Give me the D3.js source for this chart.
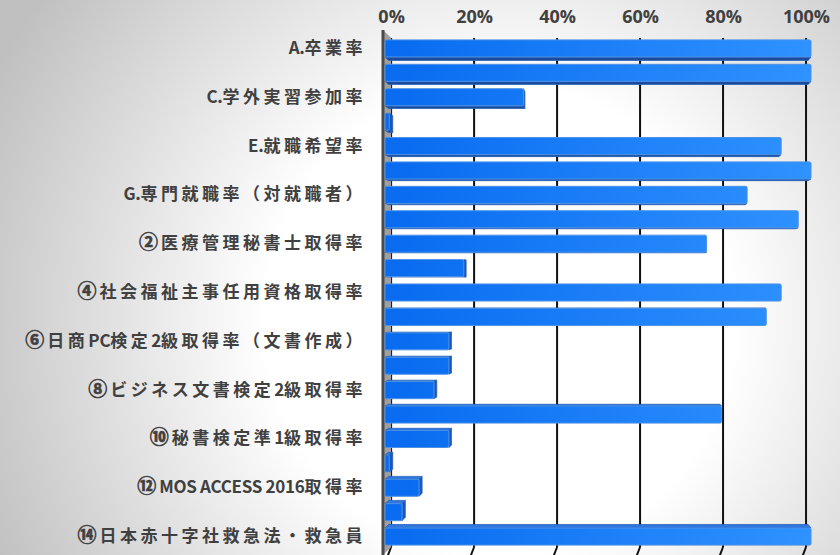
<!DOCTYPE html>
<html>
<head>
<meta charset="utf-8">
<script src="https://cdn.jsdelivr.net/npm/d3@7"></script>
<style>
  body { margin: 0; background: #fff; }
  svg { display: block; }
</style>
</head>
<body>
<div id="chart"></div>
<script>
// Catégories (les libellés impairs sont masqués dans l'original, noms supposés)
const categories = [
    "A.卒業率", "B.進級率", "C.学外実習参加率", "D.退学率", "E.就職希望率",
    "F.就職率", "G.専門就職率（対就職者）", "①秘書士取得率", "②医療管理秘書士取得率",
    "③ビジネス実務士取得率", "④社会福祉主事任用資格取得率", "⑤情報処理士取得率",
    "⑥日商PC検定2級取得率（文書作成）", "⑦日商PC検定2級取得率（データ活用）",
    "⑧ビジネス文書検定2級取得率", "⑨サービス接遇検定2級取得率", "⑩秘書検定準1級取得率",
    "⑪MOS WORD 2016取得率", "⑫MOS ACCESS 2016取得率", "⑬MOS EXCEL 2016取得率",
    "⑭日本赤十字社救急法・救急員"
];

const values = [
    1.00, 1.00, 0.325, 0.01, 0.93,
    1.00, 0.85, 0.97, 0.755,
    0.185, 0.93, 0.895,
    0.15, 0.15,
    0.115, 0.79, 0.15,
    0.01, 0.08, 0.04,
    1.00
];

const tickValues = [0, 0.2, 0.4, 0.6, 0.8, 1.0];
const tickLabels = ["0%", "20%", "40%", "60%", "80%", "100%"];

// Configuration
const width = 840;
const height = 555;
const vp = { x: 620, y: 290 };   // point de fuite pour l'effet 3D
const kBar = 0.985;
const kWall = 0.974;

function proj(px, py, k) {
    return [vp.x + (px - vp.x) * k, vp.y + (py - vp.y) * k];
}

const svg = d3.select("#chart")
    .append("svg")
    .attr("width", width)
    .attr("height", height);

const defs = svg.append("defs");

// Fond dégradé
const bg = defs.append("radialGradient")
    .attr("id", "bg")
    .attr("gradientUnits", "userSpaceOnUse")
    .attr("cx", 500).attr("cy", 320).attr("r", 560);
bg.append("stop").attr("offset", "0").attr("stop-color", "#ffffff");
bg.append("stop").attr("offset", "0.42").attr("stop-color", "#ffffff");
bg.append("stop").attr("offset", "1").attr("stop-color", "#c0c0c0");

// Dégradé des barres
const barGrad = defs.append("linearGradient")
    .attr("id", "barGrad")
    .attr("gradientUnits", "userSpaceOnUse")
    .attr("x1", 385).attr("x2", 811).attr("y1", 0).attr("y2", 0);
barGrad.append("stop").attr("offset", "0").attr("stop-color", "#086bf0");
barGrad.append("stop").attr("offset", "1").attr("stop-color", "#2e92ff");

svg.append("rect")
    .attr("width", width)
    .attr("height", height)
    .attr("fill", "url(#bg)");

// Échelles
const x = d3.scaleLinear().domain([0, 1]).range([385, 811]);
const xBack = d3.scaleLinear().domain([0, 1])
    .range([proj(385, 0, kWall)[0], proj(811, 0, kWall)[0]]);

const y = d3.scaleBand()
    .domain(categories)
    .range([35, 550])
    .paddingInner(0.3)
    .paddingOuter(0.2);

const wallTop = 38;
const wallBottom = 547;

// Lignes de grille (paroi du fond)
svg.append("g")
    .selectAll("line")
    .data(tickValues)
    .join("line")
    .attr("x1", d => xBack(d))
    .attr("x2", d => xBack(d))
    .attr("y1", wallTop)
    .attr("y2", wallBottom)
    .attr("stroke", "#111")
    .attr("stroke-width", 2);

// Graduations du sol
svg.append("g")
    .selectAll("line")
    .data(tickValues)
    .join("line")
    .attr("x1", d => xBack(d))
    .attr("x2", d => xBack(d) - 5)
    .attr("y1", wallBottom)
    .attr("y2", 560)
    .attr("stroke", "#111")
    .attr("stroke-width", 2);

// Paroi de gauche
svg.append("path")
    .attr("d", d3.line()([[383, 30], [xBack(0), wallTop], [xBack(0), wallBottom], [383, 555]]) + "Z")
    .attr("fill", "#a0a0a0");
svg.append("line")
    .attr("x1", 383).attr("x2", 383)
    .attr("y1", 30).attr("y2", 555)
    .attr("stroke", "#4a4a4a")
    .attr("stroke-width", 3);

// Barres
const bw = y.bandwidth();
const barData = categories.map((c, i) => ({ cat: c, value: values[i] }));

const bars = svg.append("g")
    .selectAll("g")
    .data(barData)
    .join("g");

bars.each(function(d) {
    const g = d3.select(this);
    const x0 = x(0), x1 = x(d.value);
    const y0 = y(d.cat), y1 = y0 + bw;
    const faces = [];
    if (y1 < vp.y) {
        faces.push({ pts: [[x0, y1], [x1, y1], proj(x1, y1, kBar), proj(x0, y1, kBar)], fill: "#1b4c9c" });
    }
    if (y0 > vp.y) {
        faces.push({ pts: [[x0, y0], [x1, y0], proj(x1, y0, kBar), proj(x0, y0, kBar)], fill: "#2c78e0" });
    }
    if (x1 < vp.x) {
        faces.push({ pts: [[x1, y0], [x1, y1], proj(x1, y1, kBar), proj(x1, y0, kBar)], fill: "#1656bd" });
    }
    faces.forEach(f => {
        g.append("path")
            .attr("d", d3.line()(f.pts) + "Z")
            .attr("fill", f.fill)
            .attr("stroke", "#2a62b8")
            .attr("stroke-width", 0.8)
            .attr("stroke-linejoin", "round");
    });
    g.append("rect")
        .attr("x", x0)
        .attr("y", y0)
        .attr("width", Math.max(0, x1 - x0))
        .attr("height", bw)
        .attr("rx", 1.5)
        .attr("fill", "url(#barGrad)")
        .attr("stroke", "#4d92e6")
        .attr("stroke-width", 1);
});

// Axe du haut (pourcentages)
const xAxis = svg.append("g")
    .attr("transform", "translate(0,23)")
    .call(d3.axisTop(xBack)
        .tickValues(tickValues)
        .tickFormat((d, i) => tickLabels[i])
        .tickSize(0)
        .tickPadding(0));
xAxis.select(".domain").remove();
xAxis.selectAll("text")
    .attr("dy", "0")
    .attr("fill", "#404040")
    .style("font-family", "'Open Sans', sans-serif")
    .style("font-weight", "bold")
    .style("font-size", "18px");

// Axe des catégories (une étiquette sur deux)
const yAxis = svg.append("g")
    .attr("transform", "translate(385,0)")
    .call(d3.axisLeft(y)
        .tickValues(categories.filter((c, i) => i % 2 === 0))
        .tickSize(0)
        .tickPadding(19));
yAxis.select(".domain").remove();

yAxis.selectAll("text")
    .attr("fill", "#404040")
    .style("font-family", "'Noto Sans CJK JP', sans-serif")
    .style("font-weight", "bold")
    .style("font-size", "17px")
    .each(function(d) {
        const t = d3.select(this);
        t.text(null);
        const runs = d.match(/[\u2460-\u2473]|[\x20-\x7E]+|[^\x20-\x7E\u2460-\u2473]+/g);
        runs.forEach(r => {
            const circled = /^[\u2460-\u2473]$/.test(r);
            const ascii = /^[\x20-\x7E]+$/.test(r);
            t.append("tspan")
                .style("letter-spacing", ascii ? "-0.3px" : (circled ? "3px" : "3.5px"))
                .style("font-size", circled ? "19px" : null)
                .style("stroke", circled ? "#404040" : null)
                .style("stroke-width", circled ? "0.6px" : null)
                .text(r);
        });
    });
</script>
</body>
</html>
